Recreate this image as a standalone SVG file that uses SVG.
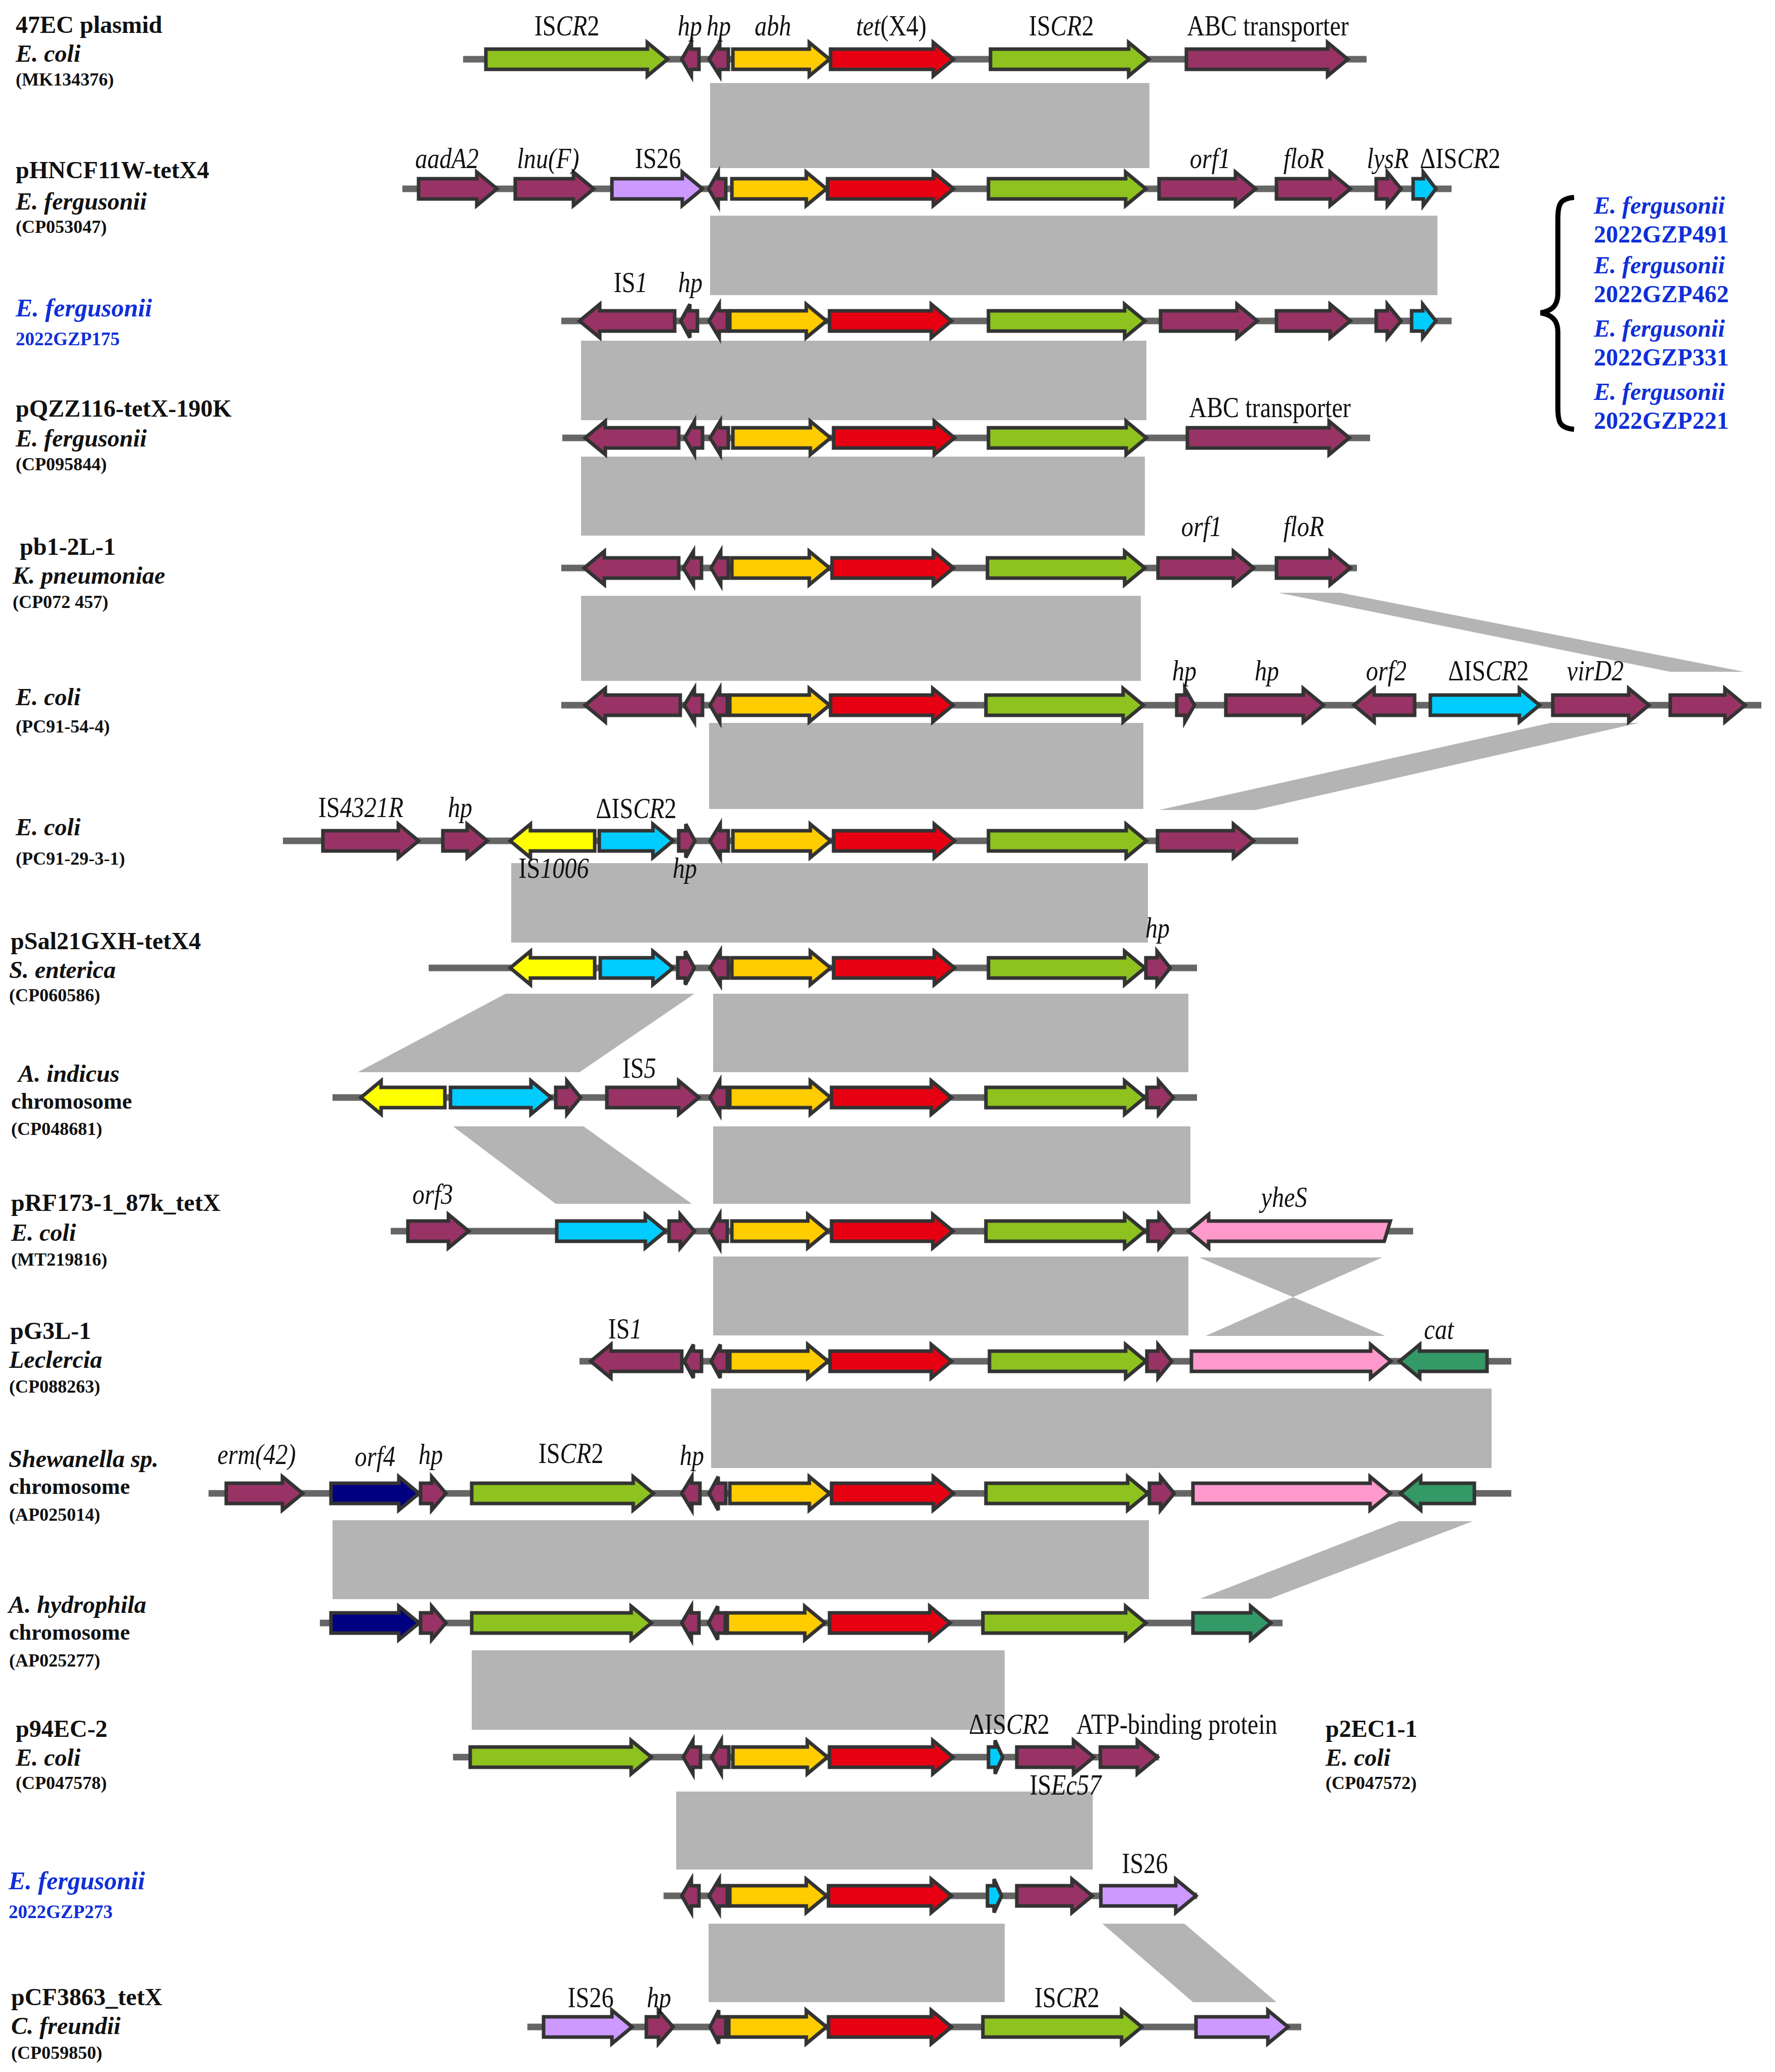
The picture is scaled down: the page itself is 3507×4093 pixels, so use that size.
<svg xmlns="http://www.w3.org/2000/svg" width="3507" height="4093" viewBox="0 0 3507 4093">
<style>
.bb{stroke:#666;stroke-width:13}
.a{stroke:#333;stroke-width:7;stroke-linejoin:miter}
.pu{fill:#993366}.gr{fill:#8dc21f}.ye{fill:#ffcc00}.re{fill:#e60012}.li{fill:#cc99ff}.cy{fill:#00ccff}.yl{fill:#ffff00}.pk{fill:#ff99cc}.dg{fill:#339966}.nv{fill:#000080}
.h{fill:#b4b4b4}
.g{font-family:"Liberation Serif","Times New Roman",serif;font-size:56px;text-anchor:middle;fill:#111}
.i{font-style:italic}
.n1{font-family:"Liberation Serif","Times New Roman",serif;font-weight:bold;font-size:48px;fill:#111}
.n2{font-family:"Liberation Serif","Times New Roman",serif;font-weight:bold;font-style:italic;font-size:48px;fill:#111}
.n3{font-family:"Liberation Serif","Times New Roman",serif;font-weight:bold;font-size:36px;fill:#111}
.ch{font-family:"Liberation Serif","Times New Roman",serif;font-weight:bold;font-size:44px;fill:#111}
.bn{font-family:"Liberation Serif","Times New Roman",serif;font-weight:bold;font-style:italic;font-size:50px;fill:#0f2fd8}
.bs{font-family:"Liberation Serif","Times New Roman",serif;font-weight:bold;font-size:37px;fill:#0f2fd8}
.bk{font-family:"Liberation Serif","Times New Roman",serif;font-weight:bold;font-size:48px;fill:#0f2fd8}
</style>
<rect width="3507" height="4093" fill="#fff"/>
<g id="connectors">
<rect class="h" x="1403" y="164" width="868" height="168"/>
<rect class="h" x="1403" y="426" width="1437" height="157"/>
<rect class="h" x="1148" y="673" width="1117" height="157"/>
<rect class="h" x="1148" y="902" width="1114" height="156"/>
<rect class="h" x="1148" y="1177" width="1106" height="168"/>
<polygon class="h" points="2526,1171 2649,1171 3446,1327 3300,1327"/>
<rect class="h" x="1401" y="1428" width="858" height="170"/>
<polygon class="h" points="3064,1428 3238,1428 2481,1600 2290,1600"/>
<rect class="h" x="1010" y="1705" width="1258" height="157"/>
<polygon class="h" points="999,1963 1372,1963 1145,2118 707,2118"/>
<rect class="h" x="1409" y="1963" width="939" height="155"/>
<polygon class="h" points="895,2225 1153,2225 1367,2378 1098,2378"/>
<rect class="h" x="1409" y="2225" width="943" height="153"/>
<rect class="h" x="1409" y="2482" width="939" height="156"/>
<polygon class="h" points="2369,2484 2731,2484 2382,2639 2737,2639"/>
<rect class="h" x="1405" y="2743" width="1542" height="157"/>
<rect class="h" x="657" y="3003" width="1613" height="156"/>
<polygon class="h" points="2764,3005 2910,3005 2509,3158 2371,3158"/>
<rect class="h" x="932" y="3260" width="1053" height="157"/>
<rect class="h" x="1336" y="3539" width="823" height="154"/>
<rect class="h" x="1400" y="3800" width="585" height="155"/>
<polygon class="h" points="2178,3800 2340,3800 2522,3955 2357,3955"/>
</g>

<g id="row1">
<text class="n1" x="31" y="65">47EC plasmid</text>
<text class="n2" x="31" y="122">E. coli</text>
<text class="n3" x="31" y="169">(MK134376)</text>
<line class="bb" x1="915" y1="117" x2="2700" y2="117"/>
<path class="a gr" d="M960,97H1279V84L1319,117L1279,150V137H960Z"/>
<path class="a pu" d="M1381,97H1366V84L1347,117L1366,150V137H1381Z"/>
<path class="a pu" d="M1439,97H1422V84L1401,117L1422,150V137H1439Z"/>
<path class="a ye" d="M1448,97H1599V84L1639,117L1599,150V137H1448Z"/>
<path class="a re" d="M1641,97H1844V84L1884,117L1844,150V137H1641Z"/>
<path class="a gr" d="M1957,97H2230V84L2270,117L2230,150V137H1957Z"/>
<path class="a pu" d="M2344,97H2623V84L2663,117L2623,150V137H2344Z"/>
<text class="g" transform="matrix(.86 0 0 1 1120 70)">IS<tspan class="i">CR</tspan>2</text>
<text class="g i" transform="matrix(.86 0 0 1 1363 70)">hp</text>
<text class="g i" transform="matrix(.86 0 0 1 1420 70)">hp</text>
<text class="g i" transform="matrix(.86 0 0 1 1527 70)">abh</text>
<text class="g" transform="matrix(.86 0 0 1 1761 70)"><tspan class="i">tet</tspan>(X4)</text>
<text class="g" transform="matrix(.86 0 0 1 2097 70)">IS<tspan class="i">CR</tspan>2</text>
<text class="g" transform="matrix(.86 0 0 1 2505 70)">ABC transporter</text>
</g>

<g id="row2">
<text class="n1" x="31" y="352">pHNCF11W-tetX4</text>
<text class="n2" x="31" y="414">E. fergusonii</text>
<text class="n3" x="31" y="460">(CP053047)</text>
<line class="bb" x1="795" y1="373" x2="2868" y2="373"/>
<path class="a pu" d="M827,353H942V340L982,373L942,406V393H827Z"/>
<path class="a pu" d="M1018,353H1133V340L1173,373L1133,406V393H1018Z"/>
<path class="a li" d="M1209,353H1348V340L1388,373L1348,406V393H1209Z"/>
<path class="a pu" d="M1434,353H1419V340L1400,373L1419,406V393H1434Z"/>
<path class="a ye" d="M1446,353H1593V340L1633,373L1593,406V393H1446Z"/>
<path class="a re" d="M1635,353H1844V340L1884,373L1844,406V393H1635Z"/>
<path class="a gr" d="M1953,353H2224V340L2264,373L2224,406V393H1953Z"/>
<path class="a pu" d="M2290,353H2441V340L2481,373L2441,406V393H2290Z"/>
<path class="a pu" d="M2522,353H2628V340L2668,373L2628,406V393H2522Z"/>
<path class="a pu" d="M2719,353H2741V340L2768,373L2741,406V393H2719Z"/>
<path class="a cy" d="M2792,353H2812V340L2837,373L2812,406V393H2792Z"/>
<text class="g i" transform="matrix(.86 0 0 1 883 332)">aadA2</text>
<text class="g i" transform="matrix(.86 0 0 1 1083 332)">lnu(F)</text>
<text class="g" transform="matrix(.86 0 0 1 1300 332)">IS26</text>
<text class="g i" transform="matrix(.86 0 0 1 2391 332)">orf1</text>
<text class="g i" transform="matrix(.86 0 0 1 2576 332)">floR</text>
<text class="g i" transform="matrix(.86 0 0 1 2742 332)">lysR</text>
<text class="g" transform="matrix(.86 0 0 1 2885 332)">ΔIS<tspan class="i">CR</tspan>2</text>
</g>

<g id="row3">
<text class="bn" x="31" y="625">E. fergusonii</text>
<text class="bs" x="31" y="682">2022GZP175</text>
<line class="bb" x1="1109" y1="634" x2="2868" y2="634"/>
<path class="a pu" d="M1333,614H1185V601L1145,634L1185,667V654H1333Z"/>
<path class="a pu" d="M1378,614H1363V601L1345,634L1363,667V654H1378Z"/>
<path class="a pu" d="M1437,614H1421V601L1401,634L1421,667V654H1437Z"/>
<path class="a ye" d="M1442,614H1593V601L1633,634L1593,667V654H1442Z"/>
<path class="a re" d="M1639,614H1840V601L1880,634L1840,667V654H1639Z"/>
<path class="a gr" d="M1953,614H2222V601L2262,634L2222,667V654H1953Z"/>
<path class="a pu" d="M2293,614H2444V601L2484,634L2444,667V654H2293Z"/>
<path class="a pu" d="M2522,614H2628V601L2668,634L2628,667V654H2522Z"/>
<path class="a pu" d="M2719,614H2741V601L2768,634L2741,667V654H2719Z"/>
<path class="a cy" d="M2789,614H2811V601L2837,634L2811,667V654H2789Z"/>
<text class="g" transform="matrix(.86 0 0 1 1246 577)">IS<tspan class="i">1</tspan></text>
<text class="g i" transform="matrix(.86 0 0 1 1364 577)">hp</text>
</g>

<g id="brace-group">
<path d="M3110,390C3082,392 3078,404 3078,432L3078,580C3078,604 3066,614 3044,618C3066,622 3078,632 3078,656L3078,806C3078,834 3082,846 3110,848" fill="none" stroke="#000" stroke-width="10"/>
<text class="bk i" x="3149" y="422">E. fergusonii</text>
<text class="bk" x="3149" y="479">2022GZP491</text>
<text class="bk i" x="3149" y="540">E. fergusonii</text>
<text class="bk" x="3149" y="597">2022GZP462</text>
<text class="bk i" x="3149" y="665">E. fergusonii</text>
<text class="bk" x="3149" y="722">2022GZP331</text>
<text class="bk i" x="3149" y="790">E. fergusonii</text>
<text class="bk" x="3149" y="847">2022GZP221</text>
</g>

<g id="row4">
<text class="n1" x="31" y="823">pQZZ116-tetX-190K</text>
<text class="n2" x="31" y="882">E. fergusonii</text>
<text class="n3" x="31" y="929">(CP095844)</text>
<line class="bb" x1="1111" y1="865" x2="2707" y2="865"/>
<path class="a pu" d="M1341,845H1196V832L1156,865L1196,898V885H1341Z"/>
<path class="a pu" d="M1388,845H1372V832L1353,865L1372,898V885H1388Z"/>
<path class="a pu" d="M1439,845H1423V832L1403,865L1423,898V885H1439Z"/>
<path class="a ye" d="M1448,845H1601V832L1641,865L1601,898V885H1448Z"/>
<path class="a re" d="M1647,845H1846V832L1886,865L1846,898V885H1647Z"/>
<path class="a gr" d="M1953,845H2225V832L2265,865L2225,898V885H1953Z"/>
<path class="a pu" d="M2346,845H2626V832L2666,865L2626,898V885H2346Z"/>
<text class="g" transform="matrix(.86 0 0 1 2509 824)">ABC transporter</text>
</g>

<g id="row5">
<text class="n1" x="39" y="1096">pb1-2L-1</text>
<text class="n2" x="25" y="1153">K. pneumoniae</text>
<text class="n3" x="25" y="1201">(CP072 457)</text>
<line class="bb" x1="1109" y1="1122" x2="2681" y2="1122"/>
<path class="a pu" d="M1341,1102H1194V1089L1154,1122L1194,1155V1142H1341Z"/>
<path class="a pu" d="M1386,1102H1370V1089L1350,1122L1370,1155V1142H1386Z"/>
<path class="a pu" d="M1439,1102H1424V1089L1405,1122L1424,1155V1142H1439Z"/>
<path class="a ye" d="M1446,1102H1599V1089L1639,1122L1599,1155V1142H1446Z"/>
<path class="a re" d="M1644,1102H1844V1089L1884,1122L1844,1155V1142H1644Z"/>
<path class="a gr" d="M1951,1102H2222V1089L2262,1122L2222,1155V1142H1951Z"/>
<path class="a pu" d="M2288,1102H2437V1089L2477,1122L2437,1155V1142H2288Z"/>
<path class="a pu" d="M2522,1102H2628V1089L2668,1122L2628,1155V1142H2522Z"/>
<text class="g i" transform="matrix(.86 0 0 1 2374 1059)">orf1</text>
<text class="g i" transform="matrix(.86 0 0 1 2576 1059)">floR</text>
</g>

<g id="row6">
<text class="n2" x="31" y="1393">E. coli</text>
<text class="n3" x="31" y="1447">(PC91-54-4)</text>
<line class="bb" x1="1109" y1="1393" x2="3480" y2="1393"/>
<path class="a pu" d="M1344,1373H1196V1360L1156,1393L1196,1426V1413H1344Z"/>
<path class="a pu" d="M1388,1373H1372V1360L1352,1393L1372,1426V1413H1388Z"/>
<path class="a pu" d="M1437,1373H1422V1360L1403,1393L1422,1426V1413H1437Z"/>
<path class="a ye" d="M1442,1373H1599V1360L1639,1393L1599,1426V1413H1442Z"/>
<path class="a re" d="M1641,1373H1843V1360L1883,1393L1843,1426V1413H1641Z"/>
<path class="a gr" d="M1948,1373H2219V1360L2259,1393L2219,1426V1413H1948Z"/>
<path class="a pu" d="M2325,1373H2341V1360L2360,1393L2341,1426V1413H2325Z"/>
<path class="a pu" d="M2422,1373H2575V1360L2615,1393L2575,1426V1413H2422Z"/>
<path class="a pu" d="M2795,1373H2715V1360L2675,1393L2715,1426V1413H2795Z"/>
<path class="a cy" d="M2826,1373H3002V1360L3042,1393L3002,1426V1413H2826Z"/>
<path class="a pu" d="M3068,1373H3218V1360L3258,1393L3218,1426V1413H3068Z"/>
<path class="a pu" d="M3300,1373H3408V1360L3448,1393L3408,1426V1413H3300Z"/>
<text class="g i" transform="matrix(.86 0 0 1 2340 1344)">hp</text>
<text class="g i" transform="matrix(.86 0 0 1 2503 1344)">hp</text>
<text class="g i" transform="matrix(.86 0 0 1 2739 1344)">orf2</text>
<text class="g" transform="matrix(.86 0 0 1 2941 1344)">ΔIS<tspan class="i">CR</tspan>2</text>
<text class="g i" transform="matrix(.86 0 0 1 3152 1344)">virD2</text>
</g>

<g id="row7">
<text class="n2" x="31" y="1650">E. coli</text>
<text class="n3" x="31" y="1708">(PC91-29-3-1)</text>
<line class="bb" x1="559" y1="1661" x2="2565" y2="1661"/>
<path class="a pu" d="M638,1641H787V1628L827,1661L787,1694V1681H638Z"/>
<path class="a pu" d="M875,1641H923V1628L963,1661L923,1694V1681H875Z"/>
<path class="a yl" d="M1175,1641H1048V1628L1008,1661L1048,1694V1681H1175Z"/>
<path class="a cy" d="M1184,1641H1290V1628L1330,1661L1290,1694V1681H1184Z"/>
<path class="a pu" d="M1341,1641H1355V1628L1373,1661L1355,1694V1681H1341Z"/>
<path class="a pu" d="M1439,1641H1423V1628L1403,1661L1423,1694V1681H1439Z"/>
<path class="a ye" d="M1448,1641H1601V1628L1641,1661L1601,1694V1681H1448Z"/>
<path class="a re" d="M1647,1641H1846V1628L1886,1661L1846,1694V1681H1647Z"/>
<path class="a gr" d="M1953,1641H2225V1628L2265,1661L2225,1694V1681H1953Z"/>
<path class="a pu" d="M2287,1641H2437V1628L2477,1661L2437,1694V1681H2287Z"/>
<text class="g" transform="matrix(.86 0 0 1 713 1614)">IS<tspan class="i">4321R</tspan></text>
<text class="g i" transform="matrix(.86 0 0 1 909 1614)">hp</text>
<text class="g" transform="matrix(.86 0 0 1 1257 1616)">ΔIS<tspan class="i">CR</tspan>2</text>
<text class="g" transform="matrix(.86 0 0 1 1094 1734)">IS<tspan class="i">1006</tspan></text>
<text class="g i" transform="matrix(.86 0 0 1 1353 1734)">hp</text>
</g>

<g id="row8">
<text class="n1" x="21" y="1875">pSal21GXH-tetX4</text>
<text class="n2" x="18" y="1932">S. enterica</text>
<text class="n3" x="18" y="1978">(CP060586)</text>
<line class="bb" x1="847" y1="1912" x2="2365" y2="1912"/>
<path class="a yl" d="M1175,1892H1048V1879L1008,1912L1048,1945V1932H1175Z"/>
<path class="a cy" d="M1186,1892H1290V1879L1330,1912L1290,1945V1932H1186Z"/>
<path class="a pu" d="M1339,1892H1354V1879L1372,1912L1354,1945V1932H1339Z"/>
<path class="a pu" d="M1439,1892H1423V1879L1403,1912L1423,1945V1932H1439Z"/>
<path class="a ye" d="M1446,1892H1601V1879L1641,1912L1601,1945V1932H1446Z"/>
<path class="a re" d="M1647,1892H1846V1879L1886,1912L1846,1945V1932H1647Z"/>
<path class="a gr" d="M1953,1892H2222V1879L2262,1912L2222,1945V1932H1953Z"/>
<path class="a pu" d="M2264,1892H2286V1879L2312,1912L2286,1945V1932H2264Z"/>
<text class="g i" transform="matrix(.86 0 0 1 2287 1852)">hp</text>
</g>

<g id="row9">
<text class="n2" x="36" y="2137">A. indicus</text>
<text class="ch" x="22" y="2190">chromosome</text>
<text class="n3" x="22" y="2242">(CP048681)</text>
<line class="bb" x1="657" y1="2168" x2="2365" y2="2168"/>
<path class="a yl" d="M879,2148H753V2135L713,2168L753,2201V2188H879Z"/>
<path class="a cy" d="M890,2148H1049V2135L1089,2168L1049,2201V2188H890Z"/>
<path class="a pu" d="M1098,2148H1120V2135L1147,2168L1120,2201V2188H1098Z"/>
<path class="a pu" d="M1199,2148H1341V2135L1381,2168L1341,2201V2188H1199Z"/>
<path class="a pu" d="M1437,2148H1422V2135L1403,2168L1422,2201V2188H1437Z"/>
<path class="a ye" d="M1442,2148H1601V2135L1641,2168L1601,2201V2188H1442Z"/>
<path class="a re" d="M1643,2148H1840V2135L1880,2168L1840,2201V2188H1643Z"/>
<path class="a gr" d="M1948,2148H2222V2135L2262,2168L2222,2201V2188H1948Z"/>
<path class="a pu" d="M2266,2148H2289V2135L2318,2168L2289,2201V2188H2266Z"/>
<text class="g" transform="matrix(.86 0 0 1 1263 2129)">IS<tspan class="i">5</tspan></text>
</g>

<g id="row10">
<text class="n1" x="22" y="2392">pRF173-1_87k_tetX</text>
<text class="n2" x="22" y="2451">E. coli</text>
<text class="n3" x="22" y="2500">(MT219816)</text>
<line class="bb" x1="772" y1="2432" x2="2792" y2="2432"/>
<path class="a pu" d="M806,2412H886V2399L926,2432L886,2465V2452H806Z"/>
<path class="a cy" d="M1100,2412H1275V2399L1315,2432L1275,2465V2452H1100Z"/>
<path class="a pu" d="M1322,2412H1344V2399L1372,2432L1344,2465V2452H1322Z"/>
<path class="a pu" d="M1437,2412H1422V2399L1403,2432L1422,2465V2452H1437Z"/>
<path class="a ye" d="M1446,2412H1596V2399L1636,2432L1596,2465V2452H1446Z"/>
<path class="a re" d="M1643,2412H1843V2399L1883,2432L1843,2465V2452H1643Z"/>
<path class="a gr" d="M1948,2412H2222V2399L2262,2432L2222,2465V2452H1948Z"/>
<path class="a pu" d="M2268,2412H2290V2399L2318,2432L2290,2465V2452H2268Z"/>
<path class="a pk" d="M2747,2412H2388V2399L2348,2432L2388,2465V2452H2735Z"/>
<text class="g i" transform="matrix(.86 0 0 1 855 2378)">orf3</text>
<text class="g i" transform="matrix(.86 0 0 1 2537 2384)">yheS</text>
</g>

<g id="row11">
<text class="n1" x="20" y="2645">pG3L-1</text>
<text class="n2" x="18" y="2702">Leclercia</text>
<text class="n3" x="18" y="2751">(CP088263)</text>
<line class="bb" x1="1145" y1="2689" x2="2986" y2="2689"/>
<path class="a pu" d="M1347,2669H1207V2656L1167,2689L1207,2722V2709H1347Z"/>
<path class="a pu" d="M1386,2669H1370V2656L1352,2689L1370,2722V2709H1386Z"/>
<path class="a pu" d="M1437,2669H1423V2656L1405,2689L1423,2722V2709H1437Z"/>
<path class="a ye" d="M1442,2669H1596V2656L1636,2689L1596,2722V2709H1442Z"/>
<path class="a re" d="M1640,2669H1840V2656L1880,2689L1840,2722V2709H1640Z"/>
<path class="a gr" d="M1955,2669H2224V2656L2264,2689L2224,2722V2709H1955Z"/>
<path class="a pu" d="M2266,2669H2288V2656L2315,2689L2288,2722V2709H2266Z"/>
<path class="a pk" d="M2354,2669H2708V2656L2748,2689L2708,2722V2709H2354Z"/>
<path class="a dg" d="M2938,2669H2805V2656L2765,2689L2805,2722V2709H2938Z"/>
<text class="g" transform="matrix(.86 0 0 1 1235 2644)">IS<tspan class="i">1</tspan></text>
<text class="g i" transform="matrix(.86 0 0 1 2843 2645)">cat</text>
</g>

<g id="row12">
<text class="n2" x="17" y="2898">Shewanella sp.</text>
<text class="ch" x="18" y="2951">chromosome</text>
<text class="n3" x="18" y="3004">(AP025014)</text>
<line class="bb" x1="412" y1="2950" x2="2986" y2="2950"/>
<path class="a pu" d="M447,2930H558V2917L598,2950L558,2983V2970H447Z"/>
<path class="a nv" d="M654,2930H788V2917L828,2950L788,2983V2970H654Z"/>
<path class="a pu" d="M831,2930H853V2917L881,2950L853,2983V2970H831Z"/>
<path class="a gr" d="M932,2930H1251V2917L1291,2950L1251,2983V2970H932Z"/>
<path class="a pu" d="M1383,2930H1367V2917L1347,2950L1367,2983V2970H1383Z"/>
<path class="a pu" d="M1434,2930H1419V2917L1401,2950L1419,2983V2970H1434Z"/>
<path class="a ye" d="M1442,2930H1599V2917L1639,2950L1599,2983V2970H1442Z"/>
<path class="a re" d="M1643,2930H1844V2917L1884,2950L1844,2983V2970H1643Z"/>
<path class="a gr" d="M1948,2930H2228V2917L2268,2950L2228,2983V2970H1948Z"/>
<path class="a pu" d="M2271,2930H2293V2917L2320,2950L2293,2983V2970H2271Z"/>
<path class="a pk" d="M2357,2930H2707V2917L2747,2950L2707,2983V2970H2357Z"/>
<path class="a dg" d="M2913,2930H2807V2917L2767,2950L2807,2983V2970H2913Z"/>
<text class="g i" transform="matrix(.86 0 0 1 507 2892)">erm(42)</text>
<text class="g i" transform="matrix(.86 0 0 1 741 2896)">orf4</text>
<text class="g i" transform="matrix(.86 0 0 1 851 2892)">hp</text>
<text class="g" transform="matrix(.86 0 0 1 1128 2890)">IS<tspan class="i">CR</tspan>2</text>
<text class="g i" transform="matrix(.86 0 0 1 1367 2894)">hp</text>
</g>

<g id="row13">
<text class="n2" x="17" y="3186">A. hydrophila</text>
<text class="ch" x="18" y="3239">chromosome</text>
<text class="n3" x="18" y="3292">(AP025277)</text>
<line class="bb" x1="632" y1="3206" x2="2534" y2="3206"/>
<path class="a nv" d="M654,3186H788V3173L828,3206L788,3239V3226H654Z"/>
<path class="a pu" d="M831,3186H853V3173L881,3206L853,3239V3226H831Z"/>
<path class="a gr" d="M932,3186H1247V3173L1287,3206L1247,3239V3226H932Z"/>
<path class="a pu" d="M1381,3186H1366V3173L1347,3206L1366,3239V3226H1381Z"/>
<path class="a pu" d="M1433,3186H1418V3173L1400,3206L1418,3239V3226H1433Z"/>
<path class="a ye" d="M1437,3186H1590V3173L1630,3206L1590,3239V3226H1437Z"/>
<path class="a re" d="M1639,3186H1837V3173L1877,3206L1837,3239V3226H1639Z"/>
<path class="a gr" d="M1942,3186H2224V3173L2264,3206L2224,3239V3226H1942Z"/>
<path class="a dg" d="M2357,3186H2471V3173L2511,3206L2471,3239V3226H2357Z"/>
</g>

<g id="row14">
<text class="n1" x="31" y="3431">p94EC-2</text>
<text class="n2" x="31" y="3488">E. coli</text>
<text class="n3" x="31" y="3534">(CP047578)</text>
<text class="n1" x="2619" y="3431">p2EC1-1</text>
<text class="n2" x="2619" y="3488">E. coli</text>
<text class="n3" x="2619" y="3534">(CP047572)</text>
<line class="bb" x1="895" y1="3471" x2="2290" y2="3471"/>
<path class="a gr" d="M929,3451H1247V3438L1287,3471L1247,3504V3491H929Z"/>
<path class="a pu" d="M1384,3451H1369V3438L1350,3471L1369,3504V3491H1384Z"/>
<path class="a pu" d="M1440,3451H1425V3438L1406,3471L1425,3504V3491H1440Z"/>
<path class="a ye" d="M1448,3451H1595V3438L1635,3471L1595,3504V3491H1448Z"/>
<path class="a re" d="M1639,3451H1843V3438L1883,3471L1843,3504V3491H1639Z"/>
<path class="a cy" d="M1953,3451H1966V3438L1981,3471L1966,3504V3491H1953Z"/>
<path class="a pu" d="M2009,3451H2121V3438L2161,3471L2121,3504V3491H2009Z"/>
<path class="a pu" d="M2174,3451H2247V3438L2287,3471L2247,3504V3491H2174Z"/>
<text class="g" transform="matrix(.86 0 0 1 1994 3425)">ΔIS<tspan class="i">CR</tspan>2</text>
<text class="g" transform="matrix(.86 0 0 1 2325 3425)">ATP-binding protein</text>
<text class="g" transform="matrix(.86 0 0 1 2105 3545)">IS<tspan class="i">Ec57</tspan></text>
</g>

<g id="row15">
<text class="bn" x="17" y="3732">E. fergusonii</text>
<text class="bs" x="17" y="3789">2022GZP273</text>
<line class="bb" x1="1311" y1="3745" x2="2365" y2="3745"/>
<path class="a pu" d="M1381,3725H1366V3712L1347,3745L1366,3778V3765H1381Z"/>
<path class="a pu" d="M1437,3725H1421V3712L1401,3745L1421,3778V3765H1437Z"/>
<path class="a ye" d="M1442,3725H1593V3712L1633,3745L1593,3778V3765H1442Z"/>
<path class="a re" d="M1637,3725H1840V3712L1880,3745L1840,3778V3765H1637Z"/>
<path class="a cy" d="M1951,3725H1964V3712L1979,3745L1964,3778V3765H1951Z"/>
<path class="a pu" d="M2009,3725H2118V3712L2158,3745L2118,3778V3765H2009Z"/>
<path class="a li" d="M2175,3725H2323V3712L2363,3745L2323,3778V3765H2175Z"/>
<text class="g" transform="matrix(.86 0 0 1 2262 3700)">IS26</text>
</g>

<g id="row16">
<text class="n1" x="22" y="3961">pCF3863_tetX</text>
<text class="n2" x="22" y="4018">C. freundii</text>
<text class="n3" x="22" y="4067">(CP059850)</text>
<line class="bb" x1="1042" y1="4004" x2="2571" y2="4004"/>
<path class="a li" d="M1074,3984H1209V3971L1249,4004L1209,4037V4024H1074Z"/>
<path class="a pu" d="M1277,3984H1301V3971L1330,4004L1301,4037V4024H1277Z"/>
<path class="a pu" d="M1434,3984H1420V3971L1403,4004L1420,4037V4024H1434Z"/>
<path class="a ye" d="M1440,3984H1593V3971L1633,4004L1593,4037V4024H1440Z"/>
<path class="a re" d="M1637,3984H1840V3971L1880,4004L1840,4037V4024H1637Z"/>
<path class="a gr" d="M1942,3984H2216V3971L2256,4004L2216,4037V4024H1942Z"/>
<path class="a li" d="M2363,3984H2505V3971L2545,4004L2505,4037V4024H2363Z"/>
<text class="g" transform="matrix(.86 0 0 1 1167 3965)">IS26</text>
<text class="g i" transform="matrix(.86 0 0 1 1302 3965)">hp</text>
<text class="g" transform="matrix(.86 0 0 1 2108 3965)">IS<tspan class="i">CR</tspan>2</text>
</g>
</svg>
